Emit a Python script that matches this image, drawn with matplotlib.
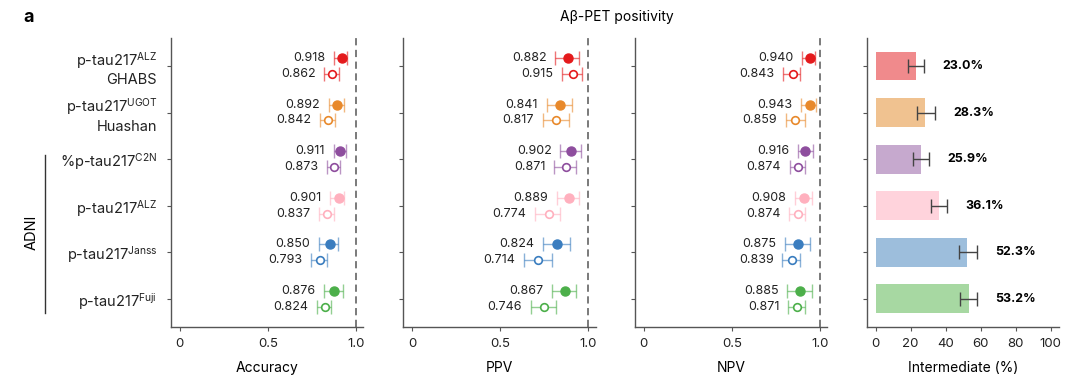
import matplotlib.pyplot as plt
import numpy as np

plt.rcParams['font.family'] = ['Inter', 'DejaVu Sans']
plt.rcParams['mathtext.fontset'] = 'custom'
plt.rcParams['mathtext.rm'] = 'Inter'
plt.rcParams['mathtext.it'] = 'Inter'

groups = ['p-tau217$^{\\mathrm{ALZ}}$\nGHABS',
          'p-tau217$^{\\mathrm{UGOT}}$\nHuashan',
          '%p-tau217$^{\\mathrm{C2N}}$',
          'p-tau217$^{\\mathrm{ALZ}}$',
          'p-tau217$^{\\mathrm{Janss}}$',
          'p-tau217$^{\\mathrm{Fuji}}$']
colors = ['#E41A1C', '#E8892B', '#8E4E9E', '#FFB0BE', '#3A7DBF', '#4CAF4A']
bar_colors = ['#F08A8C', '#F0C290', '#C6A9CE', '#FFD3DC', '#9DBEDC', '#A7D8A2']

# filled = first estimate, open = second estimate, with 95% CI
acc_f = [0.918, 0.892, 0.911, 0.901, 0.850, 0.876]
acc_f_lo = [0.877, 0.845, 0.873, 0.854, 0.791, 0.820]
acc_f_hi = [0.949, 0.930, 0.943, 0.933, 0.898, 0.924]
acc_o = [0.862, 0.842, 0.873, 0.837, 0.793, 0.824]
acc_o_lo = [0.820, 0.797, 0.836, 0.791, 0.746, 0.778]
acc_o_hi = [0.901, 0.882, 0.907, 0.873, 0.835, 0.859]

ppv_f = [0.882, 0.841, 0.902, 0.889, 0.824, 0.867]
ppv_f_lo = [0.812, 0.763, 0.841, 0.820, 0.740, 0.792]
ppv_f_hi = [0.945, 0.907, 0.955, 0.949, 0.898, 0.932]
ppv_o = [0.915, 0.817, 0.871, 0.774, 0.714, 0.746]
ppv_o_lo = [0.851, 0.742, 0.807, 0.697, 0.636, 0.674]
ppv_o_hi = [0.965, 0.888, 0.930, 0.841, 0.792, 0.814]

npv_f = [0.940, 0.943, 0.916, 0.908, 0.875, 0.885]
npv_f_lo = [0.898, 0.892, 0.873, 0.858, 0.801, 0.814]
npv_f_hi = [0.973, 0.977, 0.958, 0.953, 0.943, 0.953]
npv_o = [0.843, 0.859, 0.874, 0.874, 0.839, 0.871]
npv_o_lo = [0.791, 0.805, 0.829, 0.825, 0.786, 0.820]
npv_o_hi = [0.888, 0.911, 0.915, 0.915, 0.888, 0.911]

inter = [23.0, 28.3, 25.9, 36.1, 52.3, 53.2]
inter_lo = [18.6, 23.4, 21.5, 31.4, 47.6, 48.0]
inter_hi = [27.8, 33.9, 30.3, 40.9, 57.9, 57.9]

panels = [
    ('Accuracy', acc_f, acc_f_lo, acc_f_hi, acc_o, acc_o_lo, acc_o_hi),
    ('PPV', ppv_f, ppv_f_lo, ppv_f_hi, ppv_o, ppv_o_lo, ppv_o_hi),
    ('NPV', npv_f, npv_f_lo, npv_f_hi, npv_o, npv_o_lo, npv_o_hi),
]

fig = plt.figure(figsize=(10.8, 3.88), dpi=100)
lefts = [0.1583, 0.3734, 0.588, 0.8025]
bottom, height, width = 0.158, 0.744, 0.178
y = np.arange(len(groups))
off = 0.17
spine_col = '#555555'


def style(ax):
    for s in ['top', 'right']:
        ax.spines[s].set_visible(False)
    for s in ['left', 'bottom']:
        ax.spines[s].set_color(spine_col)
        ax.spines[s].set_linewidth(1.0)
    ax.tick_params(length=3, width=0.8, color=spine_col, labelsize=9.5, labelcolor='#222222')
    ax.tick_params(axis='x', pad=5)
    ax.tick_params(axis='y', pad=7)
    ax.set_ylim(len(groups) - 0.4, -0.6)
    ax.set_yticks(y)


for k, (name, vf, lf, hf, vo, lo, ho) in enumerate(panels):
    ax = fig.add_axes([lefts[k], bottom, width, height])
    style(ax)
    ax.axvline(1.0, color='#707070', ls=(0, (4, 2.5)), lw=1.3, zorder=1)
    for i in range(len(groups)):
        c = colors[i]
        # lighter CI whiskers, then the point on top
        ax.errorbar(vf[i], y[i] - off, xerr=[[vf[i] - lf[i]], [hf[i] - vf[i]]],
                    fmt='none', ecolor=c, alpha=0.6, elinewidth=1.0,
                    capsize=5, capthick=1.0, zorder=2)
        ax.plot(vf[i], y[i] - off, 'o', color=c, ms=6.5, zorder=3)
        ax.errorbar(vo[i], y[i] + off, xerr=[[vo[i] - lo[i]], [ho[i] - vo[i]]],
                    fmt='none', ecolor=c, alpha=0.6, elinewidth=1.0,
                    capsize=5, capthick=1.0, zorder=2)
        ax.plot(vo[i], y[i] + off, 'o', mfc='white', mec=c, mew=1.2, ms=5.5, zorder=3)
        ax.text(lf[i] - 0.05, y[i] - off, f'{vf[i]:.3f}', ha='right',
                va='center', fontsize=9, color='#222222')
        ax.text(lo[i] - 0.05, y[i] + off, f'{vo[i]:.3f}', ha='right',
                va='center', fontsize=9, color='#222222')
    ax.set_xlim(-0.05, 1.04)
    ax.set_xticks([0, 0.5, 1.0])
    ax.set_xticklabels(['0', '0.5', '1.0'])
    ax.set_xlabel(name, fontsize=10, labelpad=8)
    if k == 0:
        ax.set_yticklabels(groups, fontsize=10.5, ha='right', multialignment='right')
    else:
        ax.set_yticklabels([])

ax = fig.add_axes([lefts[3], bottom, width, height])
style(ax)
ax.barh(y, inter, height=0.62, color=bar_colors, zorder=2)
ax.errorbar(inter, y, xerr=[np.subtract(inter, inter_lo), np.subtract(inter_hi, inter)],
            fmt='none', ecolor='#444444', elinewidth=1.0, capsize=5, capthick=1.0, zorder=3)
for i in range(len(groups)):
    ax.text(inter_hi[i] + 10.5, y[i], f'{inter[i]:.1f}%', ha='left', va='center',
            fontsize=9, fontweight='bold', color='black')
ax.set_xlim(-5.1, 104.7)
ax.set_xticks(np.arange(0, 101, 20))
ax.set_yticklabels([])
ax.set_xlabel('Intermediate (%)', fontsize=10, labelpad=8)

fig.text(0.571, 0.956, 'Aβ-PET positivity', ha='center', va='center', fontsize=10)
fig.text(0.022, 0.956, 'a', ha='left', va='center', fontsize=13, fontweight='bold')
fig.add_artist(plt.Line2D([0.0417, 0.0417], [1 - 155 / 388, 1 - 313 / 388],
                          color='#333333', lw=1.0))
fig.text(0.029, 1 - 232 / 388, 'ADNI', rotation=90, ha='center', va='center', fontsize=10.5)

fig.savefig('out.png', dpi=100)
